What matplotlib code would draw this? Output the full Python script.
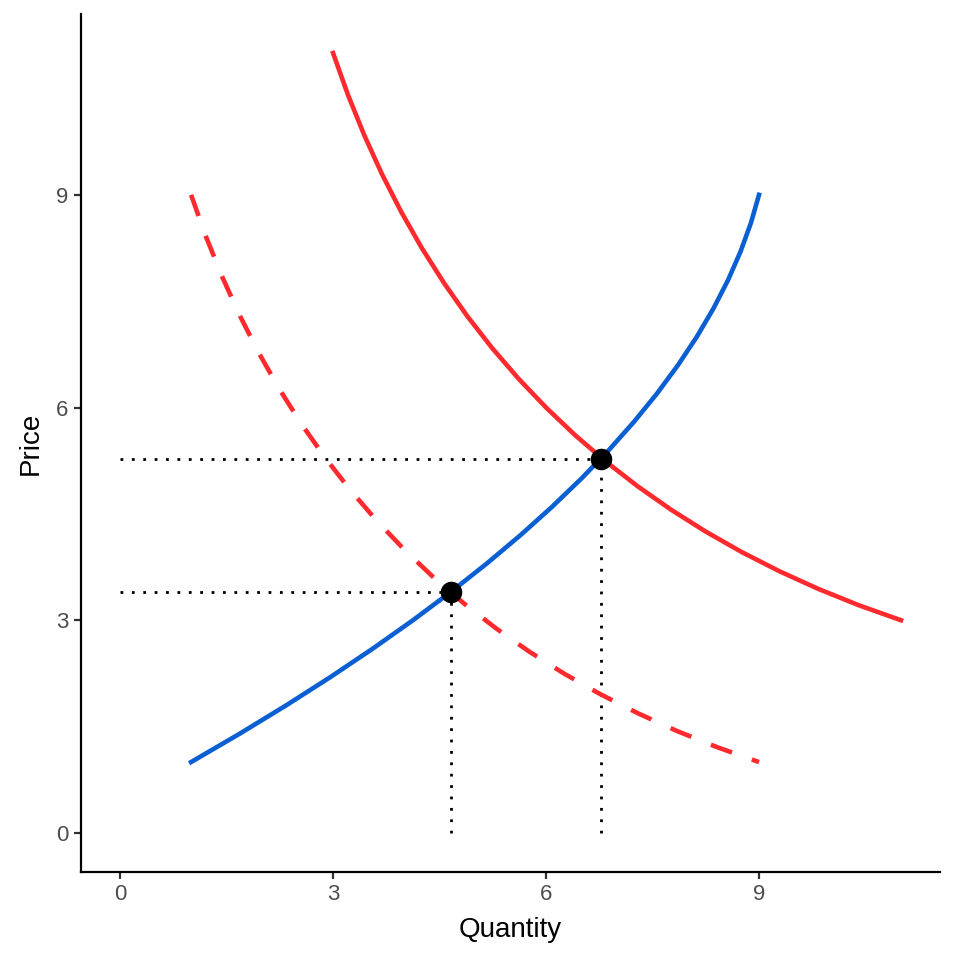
import matplotlib
matplotlib.use("Agg")
import matplotlib.pyplot as plt

plt.rcParams["font.family"] = ["Liberation Sans", "DejaVu Sans"]

# curves (quantity, price)
supply_q = [1.0, 1.685, 2.34, 2.965, 3.56, 4.125, 4.66, 5.165, 5.64, 6.085, 6.5,
            6.885, 7.24, 7.565, 7.86, 8.125, 8.36, 8.565, 8.74, 8.885, 9.0]
supply_p = [1.0, 1.4, 1.8, 2.2, 2.6, 3.0, 3.4, 3.8, 4.2, 4.6, 5.0,
            5.4, 5.8, 6.2, 6.6, 7.0, 7.4, 7.8, 8.2, 8.6, 9.0]

demand_q = [1.0, 1.21, 1.44, 1.69, 1.96, 2.25, 2.56, 2.89, 3.24, 3.61, 4.0,
            4.41, 4.84, 5.29, 5.76, 6.25, 6.76, 7.29, 7.84, 8.41, 9.0]
demand_p = [9.0, 8.41, 7.84, 7.29, 6.76, 6.25, 5.76, 5.29, 4.84, 4.41, 4.0,
            3.61, 3.24, 2.89, 2.56, 2.25, 1.96, 1.69, 1.44, 1.21, 1.0]

demand_new_q = [3.0, 3.21, 3.44, 3.69, 3.96, 4.25, 4.56, 4.89, 5.24, 5.61, 6.0,
                6.41, 6.84, 7.29, 7.76, 8.25, 8.76, 9.29, 9.84, 10.41, 11.0]
demand_new_p = [11.0, 10.41, 9.84, 9.29, 8.76, 8.25, 7.76, 7.29, 6.84, 6.41, 6.0,
                5.61, 5.24, 4.89, 4.56, 4.25, 3.96, 3.69, 3.44, 3.21, 3.0]

# equilibria
eq_q = [4.66, 6.77]
eq_p = [3.40, 5.28]

ticks = [0, 3, 6, 9]

RED = "#FF2A2E"
BLUE = "#0A5FD2"

fig = plt.figure(figsize=(9.6, 9.6), dpi=100)
ax = fig.add_axes([0.0844, 0.0917, 0.8948, 0.8937])

for q, p in zip(eq_q, eq_p):
    ax.plot([0, q], [p, p], color="black", lw=2.0, ls=(0, (1, 3.1)))
    ax.plot([q, q], [0, p], color="black", lw=2.0, ls=(0, (1, 3.1)))

ax.plot(demand_q, demand_p, color=RED, lw=3.3, ls=(0, (4.9, 4.6)), solid_capstyle="butt")
ax.plot(demand_new_q, demand_new_p, color=RED, lw=3.3)
ax.plot(supply_q, supply_p, color=BLUE, lw=3.3)
ax.plot(eq_q, eq_p, "o", color="black", ms=14.5, zorder=5)

ax.set_xlim(-0.55, 11.55)
ax.set_ylim(-0.55, 11.55)
ax.set_xticks(ticks)
ax.set_yticks(ticks)
for s in ["top", "right"]:
    ax.spines[s].set_visible(False)
for s in ["left", "bottom"]:
    ax.spines[s].set_linewidth(1.6)
ax.tick_params(length=5, width=1.6, color="#333333", labelcolor="#4D4D4D",
               labelsize=16, pad=4)
ax.set_xlabel("Quantity", fontsize=20, labelpad=8)
ax.set_ylabel("Price", fontsize=20, labelpad=9)

fig.savefig("out.png", dpi=100)
